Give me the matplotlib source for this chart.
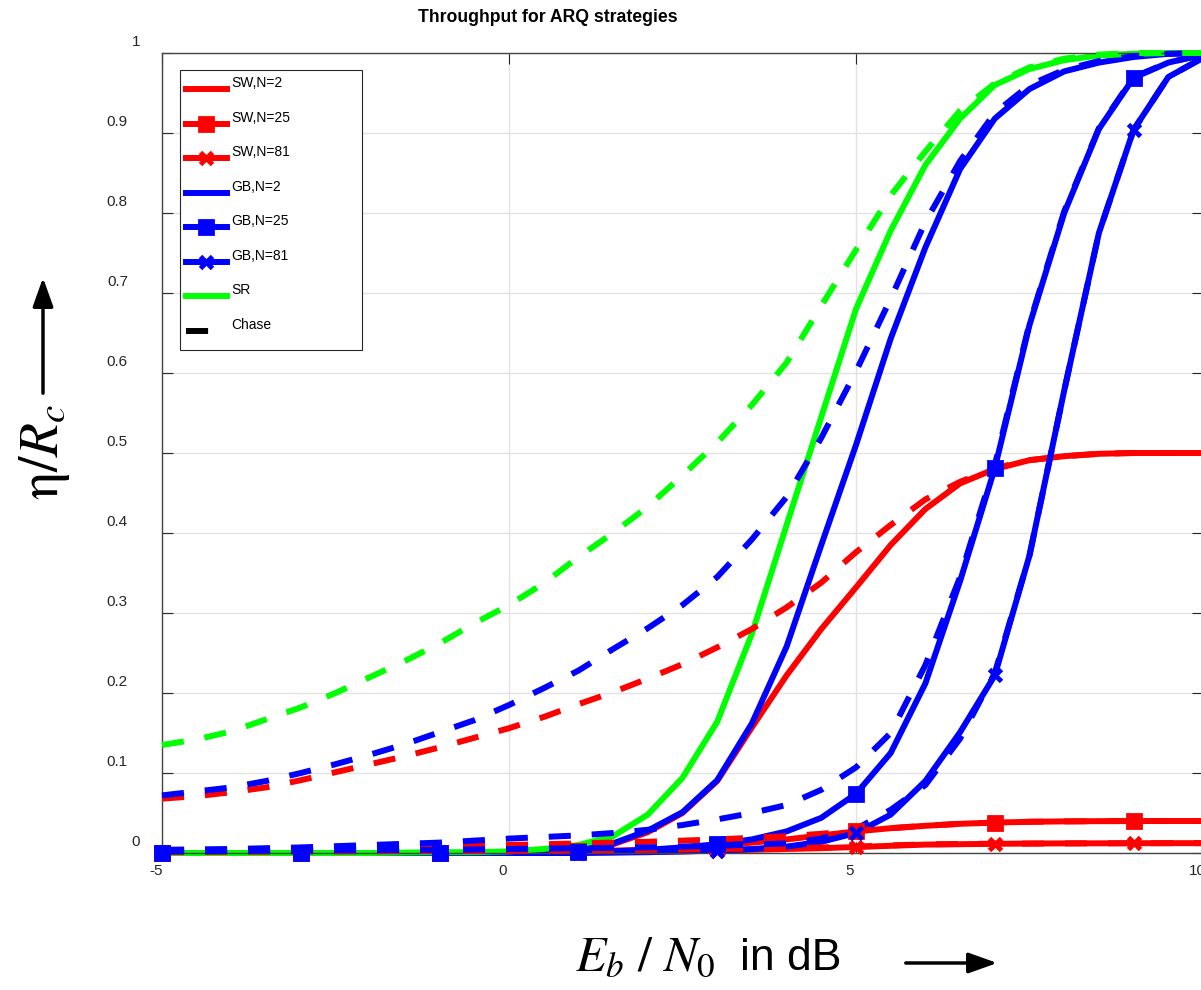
import matplotlib
matplotlib.use('Agg')
import matplotlib.pyplot as plt
from matplotlib.lines import Line2D
from matplotlib.patches import Rectangle
from matplotlib.transforms import ScaledTranslation

plt.rcParams['font.family'] = ['Liberation Sans', 'DejaVu Sans']
plt.rcParams['mathtext.fontset'] = 'stix'

W, H = 1201, 990

# Eb/N0 grid in dB
snr_db = [-5, -4.5, -4, -3.5, -3, -2.5, -2, -1.5, -1, -0.5, 0, 0.5, 1, 1.5, 2, 2.5,
          3, 3.5, 4, 4.5, 5, 5.5, 6, 6.5, 7, 7.5, 8, 8.5, 9, 9.5, 10]

# throughput eta/Rc, plain ARQ
sw2 = [0, 0, 0, 0, 0, 0, 0, 0, 0, 0, 0.0005, 0.001, 0.003, 0.011, 0.026, 0.05,
       0.09, 0.157, 0.222, 0.28, 0.332, 0.385, 0.43, 0.462, 0.48, 0.491, 0.496, 0.499, 0.5, 0.5, 0.5]
sw25 = [0, 0, 0, 0, 0, 0, 0, 0, 0, 0, 0.001, 0.0015, 0.002, 0.003, 0.004, 0.006,
        0.009, 0.013, 0.017, 0.022, 0.027, 0.031, 0.034, 0.0365, 0.038, 0.039, 0.0395, 0.0398, 0.04, 0.04, 0.04]
sw81 = [0, 0, 0, 0, 0, 0, 0, 0, 0, 0, 0, 0, 0.0005, 0.001, 0.0015, 0.002,
        0.003, 0.004, 0.005, 0.006, 0.0075, 0.009, 0.0105, 0.011, 0.0115, 0.0118, 0.012, 0.0121, 0.0122, 0.0123, 0.0123]
gb2 = [0, 0, 0, 0, 0, 0, 0, 0, 0, 0, 0.0005, 0.001, 0.003, 0.012, 0.028, 0.051,
       0.091, 0.162, 0.258, 0.385, 0.51, 0.643, 0.757, 0.855, 0.918, 0.955, 0.977, 0.988, 0.995, 0.999, 1.0]
gb25 = [0, 0, 0, 0, 0, 0, 0, 0, 0, 0, 0, 0.0005, 0.001, 0.002, 0.004, 0.007,
        0.011, 0.017, 0.027, 0.044, 0.074, 0.125, 0.212, 0.34, 0.481, 0.66, 0.8, 0.905, 0.969, 0.988, 0.998]
gb81 = [0, 0, 0, 0, 0, 0, 0, 0, 0, 0, 0, 0, 0, 0.0005, 0.001, 0.002,
        0.003, 0.005, 0.008, 0.014, 0.025, 0.048, 0.09, 0.151, 0.222, 0.372, 0.578, 0.775, 0.904, 0.97, 0.994]
sr = [0, 0, 0, 0, 0, 0, 0, 0.0005, 0.001, 0.001, 0.002, 0.005, 0.01, 0.021, 0.048, 0.094,
      0.164, 0.274, 0.41, 0.545, 0.68, 0.778, 0.86, 0.918, 0.96, 0.98, 0.991, 0.997, 0.999, 1.0, 1.0]

# throughput with Chase combining
sw2_chase = [0.068, 0.071, 0.076, 0.082, 0.091, 0.101, 0.111, 0.121, 0.132, 0.144, 0.156, 0.17, 0.186, 0.201, 0.218, 0.236,
             0.257, 0.28, 0.307, 0.338, 0.376, 0.41, 0.442, 0.464, 0.481, 0.491, 0.496, 0.499, 0.5, 0.5, 0.5]
sw25_chase = [0.003, 0.0035, 0.004, 0.0045, 0.005, 0.0055, 0.006, 0.007, 0.0085, 0.009, 0.01, 0.011, 0.012, 0.013, 0.014, 0.0155,
              0.017, 0.019, 0.021, 0.024, 0.028, 0.031, 0.034, 0.0365, 0.038, 0.039, 0.0395, 0.0398, 0.04, 0.04, 0.04]
sw81_chase = [0.001, 0.0012, 0.0014, 0.0016, 0.0018, 0.002, 0.0022, 0.0024, 0.0026, 0.0028, 0.003, 0.0032, 0.0035, 0.0038, 0.004, 0.0045,
              0.005, 0.0055, 0.006, 0.007, 0.008, 0.0095, 0.0108, 0.0113, 0.0116, 0.0118, 0.012, 0.0121, 0.0122, 0.0123, 0.0123]
gb2_chase = [0.072, 0.077, 0.082, 0.09, 0.1, 0.111, 0.123, 0.136, 0.151, 0.166, 0.185, 0.206, 0.228, 0.255, 0.281, 0.31,
             0.345, 0.392, 0.445, 0.519, 0.602, 0.693, 0.789, 0.865, 0.925, 0.96, 0.979, 0.99, 0.996, 0.999, 1.0]
gb25_chase = [0.004, 0.0045, 0.005, 0.006, 0.007, 0.0085, 0.01, 0.0115, 0.013, 0.0155, 0.018, 0.02, 0.022, 0.025, 0.029, 0.035,
              0.042, 0.05, 0.06, 0.079, 0.107, 0.15, 0.235, 0.345, 0.485, 0.662, 0.802, 0.906, 0.97, 0.988, 0.998]
gb81_chase = [0.002, 0.0022, 0.0025, 0.0028, 0.003, 0.0033, 0.0035, 0.0038, 0.004, 0.0045, 0.005, 0.0055, 0.006, 0.0065, 0.007, 0.008,
              0.009, 0.0105, 0.012, 0.018, 0.03, 0.054, 0.085, 0.143, 0.225, 0.372, 0.578, 0.775, 0.904, 0.97, 0.994]
sr_chase = [0.135, 0.142, 0.152, 0.167, 0.182, 0.2, 0.22, 0.24, 0.262, 0.287, 0.31, 0.337, 0.37, 0.4, 0.433, 0.472,
            0.513, 0.56, 0.613, 0.684, 0.754, 0.822, 0.877, 0.928, 0.962, 0.982, 0.993, 0.998, 1.0, 1.0, 1.0]

x_ticks = [-5, 0, 5, 10]
x_labels = ['-5', '0', '5', '10']
y_ticks = [0, 0.1, 0.2, 0.3, 0.4, 0.5, 0.6, 0.7, 0.8, 0.9, 1]
y_labels = ['0', '0.1', '0.2', '0.3', '0.4', '0.5', '0.6', '0.7', '0.8', '0.9', '1']

RED, BLUE, GREEN = '#ff0000', '#0000ff', '#00ff00'
LW = 4.3
DASH = (3.7, 3.5)

# (label, values, chase values, colour, marker)
series = [
    ('SW,N=2', sw2, sw2_chase, RED, None),
    ('SW,N=25', sw25, sw25_chase, RED, 's'),
    ('SW,N=81', sw81, sw81_chase, RED, 'x'),
    ('GB,N=2', gb2, gb2_chase, BLUE, None),
    ('GB,N=25', gb25, gb25_chase, BLUE, 's'),
    ('GB,N=81', gb81, gb81_chase, BLUE, 'x'),
    ('SR', sr, sr_chase, GREEN, None),
]


def marker_style(marker):
    if marker == 's':
        return dict(marker='s', ms=10, mew=2)
    return dict(marker='x', ms=8, mew=3.5)


def fx(px):
    return px / W


def fy(py):
    return 1 - py / H


fig = plt.figure(figsize=(W / 100, H / 100), dpi=100)
ax = fig.add_axes([fx(162), fy(853), (1203 - 162) / W, 800 / H])

for name, vals, _, col, _ in series:
    ax.plot(snr_db, vals, color=col, lw=LW, clip_on=False, zorder=2)
for name, _, chase, col, _ in series:
    ax.plot(snr_db, chase, color=col, lw=LW, dashes=DASH, clip_on=False, zorder=3)
for name, vals, _, col, mk in series:
    if mk:
        ax.plot(snr_db, vals, ls='none', color=col, markevery=4, clip_on=False,
                zorder=4, **marker_style(mk))

ax.set_xlim(-5, 10)
ax.set_ylim(0, 1)
ax.set_xticks(x_ticks)
ax.set_xticklabels(x_labels)
ax.set_yticks(y_ticks)
ax.set_yticklabels(y_labels)
ax.grid(True, color='#e2e2e2', lw=1)
ax.set_axisbelow(True)
ax.tick_params(direction='in', length=8, width=0.8, color='#262626', top=True, right=True,
               labelsize=11, labelcolor='#262626')
ax.tick_params(axis='y', pad=24.5)
ax.tick_params(axis='x', pad=8)
for s in ax.spines.values():
    s.set_color('#444444')
    s.set_linewidth(1)

# nudge tick labels the way the exported figure shows them
for lab in ax.get_yticklabels():
    dx = 0.12 if lab.get_text() in ('0', '1') else 0.0
    lab.set_transform(lab.get_transform() + ScaledTranslation(dx, 0.13, fig.dpi_scale_trans))
for lab in ax.get_xticklabels():
    lab.set_transform(lab.get_transform() + ScaledTranslation(-0.06, 0, fig.dpi_scale_trans))

fig.text(fx(548), fy(18), 'Throughput for ARQ strategies', fontsize=12.7, fontweight='bold',
         ha='center', va='center')

# legend box
fig.add_artist(Rectangle((fx(180), fy(350)), (362 - 180) / W, (350 - 70) / H,
                         transform=fig.transFigure, facecolor='white', edgecolor='#262626',
                         lw=0.8, zorder=5))
entries = [(name, col, mk, None) for name, _, _, col, mk in series] + [('Chase', 'black', None, DASH)]
for i, (name, col, mk, dash) in enumerate(entries):
    ly = 89 + i * 34.55
    kw = dict(dashes=dash) if dash else {}
    fig.add_artist(Line2D([fx(186), fx(227)], [fy(ly), fy(ly)], transform=fig.transFigure,
                          color=col, lw=LW, zorder=6, **kw))
    if mk:
        fig.add_artist(Line2D([fx(206)], [fy(ly)], transform=fig.transFigure, ls='none',
                              color=col, zorder=7, **marker_style(mk)))
    fig.text(fx(231), fy(ly - 6), name, fontsize=10, va='center', ha='left', zorder=7)

# axis labels with arrows
fig.text(fx(44), fy(452), r'$\mathrm{\eta}/R_c$', rotation=90, fontsize=40,
         ha='center', va='center')
ax.annotate('', xy=(43, H - 275), xytext=(43, H - 396), xycoords='figure pixels',
            textcoords='figure pixels',
            arrowprops=dict(arrowstyle='-|>,head_length=0.7,head_width=0.25',
                            lw=2.5, color='black', mutation_scale=25))
fig.text(fx(575), fy(970), r'$E_b\ /\ N_0$', fontsize=36, ha='left', va='baseline')
fig.text(fx(740), fy(970), 'in dB', fontsize=32, ha='left', va='baseline')
ax.annotate('', xy=(1000, H - 963), xytext=(903, H - 963), xycoords='figure pixels',
            textcoords='figure pixels',
            arrowprops=dict(arrowstyle='-|>,head_length=0.7,head_width=0.25',
                            lw=2.5, color='black', mutation_scale=25))

fig.savefig('out.png', dpi=100)
